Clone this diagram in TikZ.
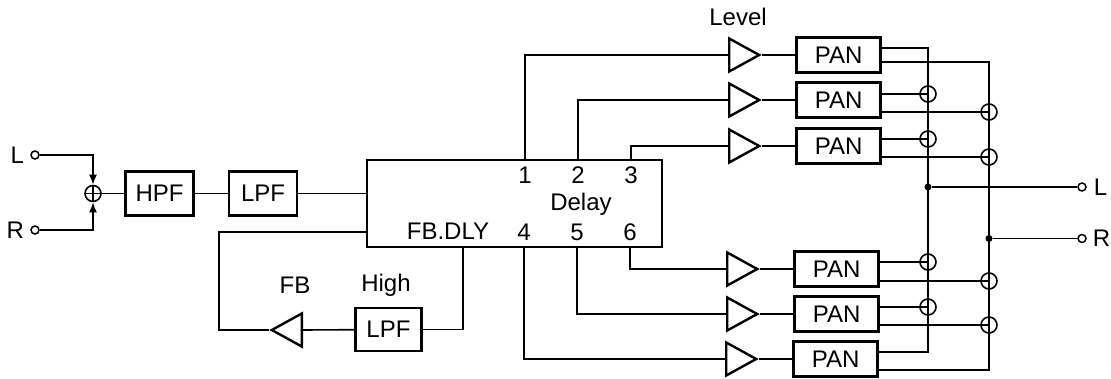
\documentclass[tikz,border=0pt]{standalone}
\usepackage{fontspec}
\setmainfont{Liberation Sans}
\usetikzlibrary{arrows.meta,positioning,shapes.geometric}

\begin{document}
\begin{tikzpicture}[x=1pt,y=-1pt,font=\fontsize{24}{27}\selectfont,
box/.style={draw,line width=2.6pt,minimum width=68pt,minimum height=44pt,inner sep=0pt},
panbox/.style={box,minimum width=84pt,minimum height=35pt},
amp/.style={draw,line width=2.4pt,isosceles triangle,isosceles triangle stretches,minimum width=33pt,minimum height=30pt,inner sep=0pt},
term/.style={circle,draw,line width=1.5pt,fill=white,minimum size=8pt,inner sep=0pt},
mix/.style={circle,draw,line width=1.6pt,minimum size=16pt,inner sep=0pt},
dot/.style={circle,fill=black,minimum size=7pt,inner sep=0pt},
lab/.style={inner sep=0pt},
arr/.style={line width=1.6pt}]
\useasboundingbox (0,0) rectangle (1111,378);
% input side
\node[term] (inL) at (35,155) {};
\node[term] (inR) at (35,230) {};
\node[lab,left=6pt of inL] (labL) {L};
\node[lab,left=6pt of inR] (labR) {R};
\node[mix,path picture={\draw[line width=1.4pt] (path picture bounding box.north) -- (path picture bounding box.south) (path picture bounding box.west) -- (path picture bounding box.east);}] (sum) at (93,193.5) {};
\node[box,minimum width=68pt] (hpf) at (159.5,193.5) {HPF};
\node[box,right=33pt of hpf] (lpf) {LPF};
\node[draw,line width=2.6pt,minimum width=295pt,minimum height=87pt] (delay) at (514.5,203.5) {};
\draw[arr,-{Latex[length=10pt,width=8pt]}] (inL) -| (sum);
\draw[arr,-{Latex[length=10pt,width=8pt]}] (inR) -| (sum);
\draw[arr] (sum) -- (hpf);
\draw[arr] (hpf) -- (lpf);
\draw[arr] (lpf) -- (delay.west |- lpf);
% delay labels
\node[lab] (dly1) at (525,175) {1};
\node[lab] (dly2) at (578,175) {2};
\node[lab] (dly3) at (631,175) {3};
\node[lab] (dly4) at (524,232) {4};
\node[lab] (dly5) at (577,232) {5};
\node[lab] (dly6) at (630,232) {6};
\node[lab] (dlyname) at (581,204) {Delay};
\node[lab] (fbdly) at (448,231) {FB.DLY};
% feedback
\node[box,minimum width=66pt,minimum height=43pt] (lpfb) at (388.5,329.5) {LPF};
\node[amp,shape border rotate=180,anchor=lower side] (ampfb) at (303,330) {};
\node[lab] (labfb) at (295,285) {FB};
\node[lab] (labhigh) at (386,285) {High};
\coordinate (fbout) at (463,248);
\coordinate (fbback) at (219,232);
\draw[arr] (fbout) |- (lpfb);
\draw[arr] (lpfb) -- (ampfb.lower side);
\draw[arr] (ampfb.apex) -| (fbback) -- (fbback -| delay.west);
% level and pan, top
\node[amp,anchor=lower side] (amp1) at (728,55) {};
\node[amp,anchor=lower side] (amp2) at (728,100) {};
\node[amp,anchor=lower side] (amp3) at (728,146) {};
\node[panbox,right=33pt of amp1.apex] (pan1) {PAN};
\node[panbox,right=33pt of amp2.apex] (pan2) {PAN};
\node[panbox,right=33pt of amp3.apex] (pan3) {PAN};
\node[lab] (lablevel) at (738,17) {Level};
% level and pan, bottom
\node[amp,anchor=lower side] (amp4) at (726,269) {};
\node[amp,anchor=lower side] (amp5) at (726,314) {};
\node[amp,anchor=lower side] (amp6) at (725,359) {};
\node[panbox,right=33pt of amp4.apex] (pan4) {PAN};
\node[panbox,right=33pt of amp5.apex] (pan5) {PAN};
\node[panbox,right=33pt of amp6.apex] (pan6) {PAN};
% taps
\draw[arr] (delay.north -| dly1) |- (amp1.lower side);
\draw[arr] (delay.north -| dly2) |- (amp2.lower side);
\draw[arr] (delay.north -| dly3) |- (amp3.lower side);
\draw[arr] (delay.south -| dly6) |- (amp4.lower side);
\draw[arr] (delay.south -| dly5) |- (amp5.lower side);
\draw[arr] (delay.south -| dly4) |- (amp6.lower side);
\draw[arr] (amp1.apex) -- (pan1);
\draw[arr] (amp2.apex) -- (pan2);
\draw[arr] (amp3.apex) -- (pan3);
\draw[arr] (amp4.apex) -- (pan4);
\draw[arr] (amp5.apex) -- (pan5);
\draw[arr] (amp6.apex) -- (pan6);
% output busses
\coordinate (busLa) at (928,48);
\coordinate (busLb) at (928,352);
\coordinate (busRa) at (989,62);
\coordinate (busRb) at (989,370);
\node[mix] (mixL2) at (928,94) {};
\node[mix] (mixL3) at (928,139) {};
\node[mix] (mixL4) at (928,262) {};
\node[mix] (mixL5) at (928,307) {};
\node[mix] (mixR2) at (989,112) {};
\node[mix] (mixR3) at (989,157) {};
\node[mix] (mixR4) at (989,281) {};
\node[mix] (mixR5) at (989,325) {};
\draw[arr] (busLa -| pan1.east) -- (busLa) -- (busLb) -- (busLb -| pan6.east);
\draw[arr] (busRa -| pan1.east) -- (busRa) -- (busRb) -- (busRb -| pan6.east);
\draw[arr] (mixL2 -| pan2.east) -- (mixL2.center);
\draw[arr] (mixR2 -| pan2.east) -- (mixR2.center);
\draw[arr] (mixL3 -| pan3.east) -- (mixL3.center);
\draw[arr] (mixR3 -| pan3.east) -- (mixR3.center);
\draw[arr] (mixL4 -| pan4.east) -- (mixL4.center);
\draw[arr] (mixR4 -| pan4.east) -- (mixR4.center);
\draw[arr] (mixL5 -| pan5.east) -- (mixL5.center);
\draw[arr] (mixR5 -| pan5.east) -- (mixR5.center);
% outputs
\node[dot] (dotL) at (928,187) {};
\node[dot] (dotR) at (989,238.5) {};
\node[term] (outL) at (1082,187) {};
\node[term] (outR) at (1082,238.5) {};
\node[lab,right=7pt of outL] (labOL) {L};
\node[lab,right=6pt of outR] (labOR) {R};
\draw[arr] (dotL) -- (outL);
\draw[arr] (dotR) -- (outR);
\end{tikzpicture}
\end{document}
